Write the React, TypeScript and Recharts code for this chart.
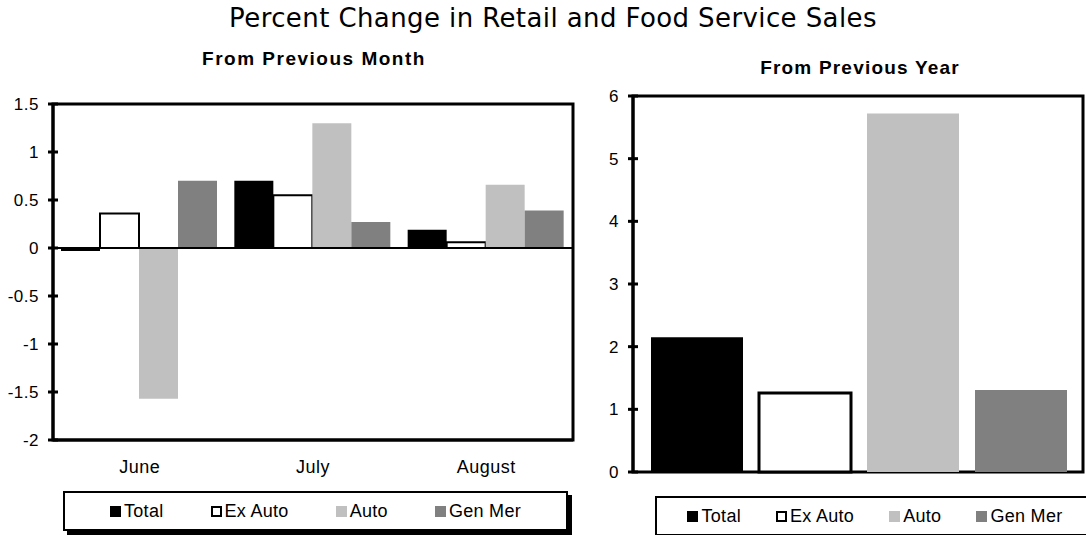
import React from 'react';
import { BarChart, Bar, XAxis, YAxis, ReferenceLine, ReferenceArea } from 'recharts';

const months = ['June', 'July', 'August'];
const totalMonth = [-0.03, 0.7, 0.19];
const exAutoMonth = [0.36, 0.55, 0.06];
const autoMonth = [-1.57, 1.3, 0.66];
const genMerMonth = [0.7, 0.27, 0.39];

const yearLabel = ['Year'];
const totalYear = [2.15];
const exAutoYear = [1.26];
const autoYear = [5.72];
const genMerYear = [1.31];

const monthTicks = [1.5, 1, 0.5, 0, -0.5, -1, -1.5, -2];
const yearTicks = [0, 1, 2, 3, 4, 5, 6];

const series = [
  { key: 'total', label: 'Total', fill: '#000000', stroke: 'none' },
  { key: 'exAuto', label: 'Ex Auto', fill: '#ffffff', stroke: '#000000' },
  { key: 'auto', label: 'Auto', fill: '#c0c0c0', stroke: 'none' },
  { key: 'genMer', label: 'Gen Mer', fill: '#808080', stroke: 'none' },
];

const monthData = months.map((m, i) => ({
  name: m,
  total: totalMonth[i],
  exAuto: exAutoMonth[i],
  auto: autoMonth[i],
  genMer: genMerMonth[i],
}));

const yearData = yearLabel.map((m, i) => ({
  name: m,
  total: totalYear[i],
  exAuto: exAutoYear[i],
  auto: autoYear[i],
  genMer: genMerYear[i],
}));

const font = 'Liberation Sans, Arial, sans-serif';

const YTick = (props: any) => {
  const { x, y, payload } = props;
  return (
    <g>
      <line x1={x - 5} x2={x + 5} y1={y} y2={y} stroke="#000" strokeWidth={3} />
      <text
        x={x - 14}
        y={y}
        dy={6}
        textAnchor="end"
        fontFamily={font}
        fontSize={17}
        letterSpacing={0.5}
        fill="#000"
      >
        {payload.value}
      </text>
    </g>
  );
};

const LegendBox = ({ left, top, width, gap, strokeW }: any) => (
  <div
    style={{
      position: 'absolute',
      left,
      top,
      width,
      height: 36,
      border: '2px solid #000',
      boxShadow: '4px 4px 0 #000',
      background: '#fff',
      display: 'flex',
      alignItems: 'center',
      justifyContent: 'center',
      gap,
      fontFamily: font,
      fontSize: 18,
      letterSpacing: 0.3,
    }}
  >
    {series.map((s) => (
      <div key={s.key} style={{ display: 'flex', alignItems: 'center' }}>
        <span
          style={{
            display: 'inline-block',
            width: s.stroke === 'none' ? 11 : 7,
            height: s.stroke === 'none' ? 11 : 7,
            background: s.fill,
            border: s.stroke === 'none' ? 'none' : `${strokeW}px solid #000`,
            marginRight: 3,
          }}
        />
        <span>{s.label}</span>
      </div>
    ))}
  </div>
);

export default function App() {
  return (
    <div
      style={{
        position: 'absolute',
        left: 0,
        top: 0,
        width: 1086,
        height: 535,
        overflow: 'hidden',
        background: '#fff',
      }}
    >
      <div
        style={{
          position: 'absolute',
          left: 0,
          width: 1086,
          top: 3,
          textAlign: 'center',
          fontFamily: 'DejaVu Sans, sans-serif',
          fontSize: 26,
          letterSpacing: 0.4,
          color: '#000',
          paddingLeft: 10,
        }}
      >
        Percent Change in Retail and Food Service Sales
      </div>
      <div
        style={{
          position: 'absolute',
          left: 196,
          top: 48,
          width: 236,
          textAlign: 'center',
          fontFamily: font,
          fontWeight: 'bold',
          fontSize: 19,
          letterSpacing: 1.5,
        }}
      >
        From Previous Month
      </div>
      <div
        style={{
          position: 'absolute',
          left: 750,
          top: 57,
          width: 220,
          textAlign: 'center',
          fontFamily: font,
          fontWeight: 'bold',
          fontSize: 19,
          letterSpacing: 1.2,
        }}
      >
        From Previous Year
      </div>

      <div style={{ position: 'absolute', left: 0, top: 80 }}>
        <BarChart
          width={590}
          height={400}
          data={monthData}
          margin={{ top: 24, right: 17, bottom: 0, left: 0 }}
          barCategoryGap={8}
          barGap={0}
        >
          <XAxis
            dataKey="name"
            axisLine={{ stroke: '#000', strokeWidth: 3 }}
            tickLine={false}
            height={40}
            tickMargin={14}
            tick={{ fill: '#000', fontFamily: font, fontSize: 18, letterSpacing: 0.5 }}
          />
          <YAxis
            width={53}
            domain={[-2, 1.5]}
            ticks={monthTicks}
            interval={0}
            tickSize={0}
            tickMargin={0}
            axisLine={{ stroke: '#000', strokeWidth: 3 }}
            tickLine={false}
            tick={<YTick />}
          />
          {series.map((s) => (
            <Bar
              key={s.key}
              dataKey={s.key}
              fill={s.fill}
              stroke={s.stroke}
              strokeWidth={s.stroke === 'none' ? 0 : 2}
              isAnimationActive={false}
            />
          ))}
          <ReferenceLine y={0} stroke="#000" strokeWidth={2} />
          <ReferenceArea
            y1={-2}
            y2={1.5}
            fill="none"
            stroke="#000"
            strokeWidth={3}
            ifOverflow="visible"
          />
        </BarChart>
      </div>

      <div style={{ position: 'absolute', left: 590, top: 80 }}>
        <BarChart
          width={496}
          height={415}
          data={yearData}
          margin={{ top: 16, right: 3, bottom: 23, left: 0 }}
          barCategoryGap={18}
          barGap={16}
        >
          <XAxis
            dataKey="name"
            axisLine={{ stroke: '#000', strokeWidth: 3 }}
            tickLine={false}
            tick={false}
            height={0}
          />
          <YAxis
            width={43}
            domain={[0, 6]}
            ticks={yearTicks}
            interval={0}
            tickSize={0}
            tickMargin={0}
            axisLine={{ stroke: '#000', strokeWidth: 3 }}
            tickLine={false}
            tick={<YTick />}
          />
          {series.map((s) => (
            <Bar
              key={s.key}
              dataKey={s.key}
              fill={s.fill}
              stroke={s.stroke}
              strokeWidth={s.stroke === 'none' ? 0 : 3}
              isAnimationActive={false}
            />
          ))}
          <ReferenceArea
            y1={0}
            y2={6}
            fill="none"
            stroke="#000"
            strokeWidth={3}
            ifOverflow="visible"
          />
        </BarChart>
      </div>

      <LegendBox left={63} top={491} width={501} gap={47} strokeW={2} />
      <LegendBox left={655} top={496} width={436} gap={35} strokeW={2} />
    </div>
  );
}
